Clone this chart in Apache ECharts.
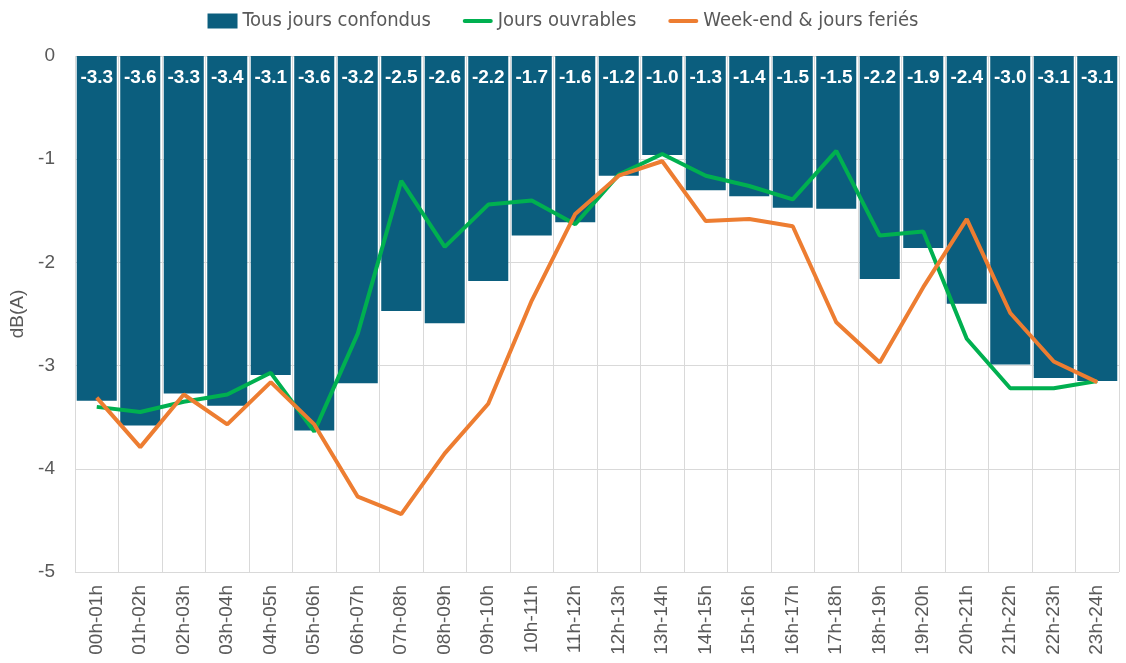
<!DOCTYPE html>
<html>
<head>
<meta charset="utf-8">
<script src="https://cdn.jsdelivr.net/npm/echarts@6/dist/echarts.min.js"></script>
<style>
  html, body { margin: 0; padding: 0; background: #fff; }
  #chart { width: 1126px; height: 663px; }
</style>
</head>
<body>
<div id="chart"></div>
<script>
// tranches horaires (axe X)
const hours = ['00h-01h', '01h-02h', '02h-03h', '03h-04h', '04h-05h', '05h-06h', '06h-07h', '07h-08h',
  '08h-09h', '09h-10h', '10h-11h', '11h-12h', '12h-13h', '13h-14h', '14h-15h', '15h-16h',
  '16h-17h', '17h-18h', '18h-19h', '19h-20h', '20h-21h', '21h-22h', '22h-23h', '23h-24h'];

// Tous jours confondus (barres)
const allDays = [-3.34, -3.58, -3.27, -3.39, -3.09, -3.63, -3.17, -2.47, -2.59, -2.18, -1.74, -1.61,
  -1.16, -0.96, -1.30, -1.36, -1.47, -1.48, -2.16, -1.86, -2.40, -2.99, -3.12, -3.15];

// Jours ouvrables (ligne verte)
const workDays = [-3.40, -3.45, -3.35, -3.28, -3.07, -3.64, -2.69, -1.21, -1.85, -1.44, -1.40, -1.63,
  -1.15, -0.95, -1.16, -1.26, -1.39, -0.92, -1.74, -1.70, -2.74, -3.22, -3.22, -3.15];

// Week-end & jours fériés (ligne orange)
const weekEnd = [-3.31, -3.79, -3.28, -3.57, -3.16, -3.57, -4.27, -4.44, -3.85, -3.37, -2.37, -1.53,
  -1.16, -1.02, -1.60, -1.58, -1.65, -2.58, -2.97, -2.24, -1.58, -2.49, -2.96, -3.16];

// graduations de l'axe Y
const yTicks = [0, -1, -2, -3, -4, -5];

const seriesNames = ['Tous jours confondus', 'Jours ouvrables', 'Week-end & jours feriés'];

const textGrey = '#595959';
const gridGrey = '#d9d9d9';
// icône de légende pour les lignes : trait épais centré (les M fixent la boîte 30x15)
const lineIcon = 'path://M0,0 M30,15 M2,5.5 L28,5.5 A2,2 0 0 1 28,9.5 L2,9.5 A2,2 0 0 1 2,5.5 Z';

const chart = echarts.init(document.getElementById('chart'));

const option = {
  animation: false,
  grid: {
    left: 75,
    right: 7,
    top: 56,
    bottom: 91
  },
  legend: {
    top: 6,
    left: 'center',
    itemWidth: 30,
    itemHeight: 15,
    itemGap: 32,
    textStyle: {
      color: textGrey,
      fontSize: 20,
      fontFamily: '"Liberation Sans Narrow", "Arial Narrow", "DejaVu Sans Condensed", sans-serif'
    },
    data: [
      {name: seriesNames[0], icon: 'rect'},
      {name: seriesNames[1], icon: lineIcon, itemStyle: {color: '#00b050'}},
      {name: seriesNames[2], icon: lineIcon, itemStyle: {color: '#ed7d31'}}
    ]
  },
  xAxis: {
    type: 'category',
    data: hours,
    axisLine: {show: false, onZero: false},
    axisTick: {show: false},
    splitLine: {
      show: true,
      lineStyle: {color: gridGrey, width: 1}
    },
    axisLabel: {
      rotate: 90,
      color: textGrey,
      fontSize: 19,
      margin: 13,
      fontFamily: '"Liberation Sans", Arial, sans-serif'
    }
  },
  yAxis: {
    type: 'value',
    min: yTicks[yTicks.length - 1],
    max: yTicks[0],
    interval: 1,
    name: 'dB(A)',
    nameLocation: 'middle',
    nameGap: 46,
    nameTextStyle: {
      color: textGrey,
      fontSize: 19,
      fontFamily: '"Liberation Sans", Arial, sans-serif'
    },
    axisLine: {show: false},
    axisTick: {show: false},
    axisLabel: {
      color: textGrey,
      fontSize: 19,
      margin: 20,
      fontFamily: '"Liberation Sans", Arial, sans-serif'
    },
    splitLine: {
      lineStyle: {color: gridGrey, width: 1}
    }
  },
  series: [
    {
      name: seriesNames[0],
      type: 'bar',
      data: allDays,
      barCategoryGap: '8%',
      itemStyle: {color: '#0b5e7e'},
      label: {
        show: true,
        position: 'insideTop',
        distance: 12,
        color: '#ffffff',
        fontSize: 19,
        fontWeight: 'bold',
        fontFamily: '"Liberation Sans", Arial, sans-serif',
        formatter: p => p.value.toFixed(1)
      }
    },
    {
      name: seriesNames[1],
      type: 'line',
      data: workDays,
      symbol: 'none',
      lineStyle: {color: '#00b050', width: 4},
      itemStyle: {color: '#00b050'}
    },
    {
      name: seriesNames[2],
      type: 'line',
      data: weekEnd,
      symbol: 'none',
      lineStyle: {color: '#ed7d31', width: 4},
      itemStyle: {color: '#ed7d31'}
    }
  ]
};

chart.setOption(option);
</script>
</body>
</html>
